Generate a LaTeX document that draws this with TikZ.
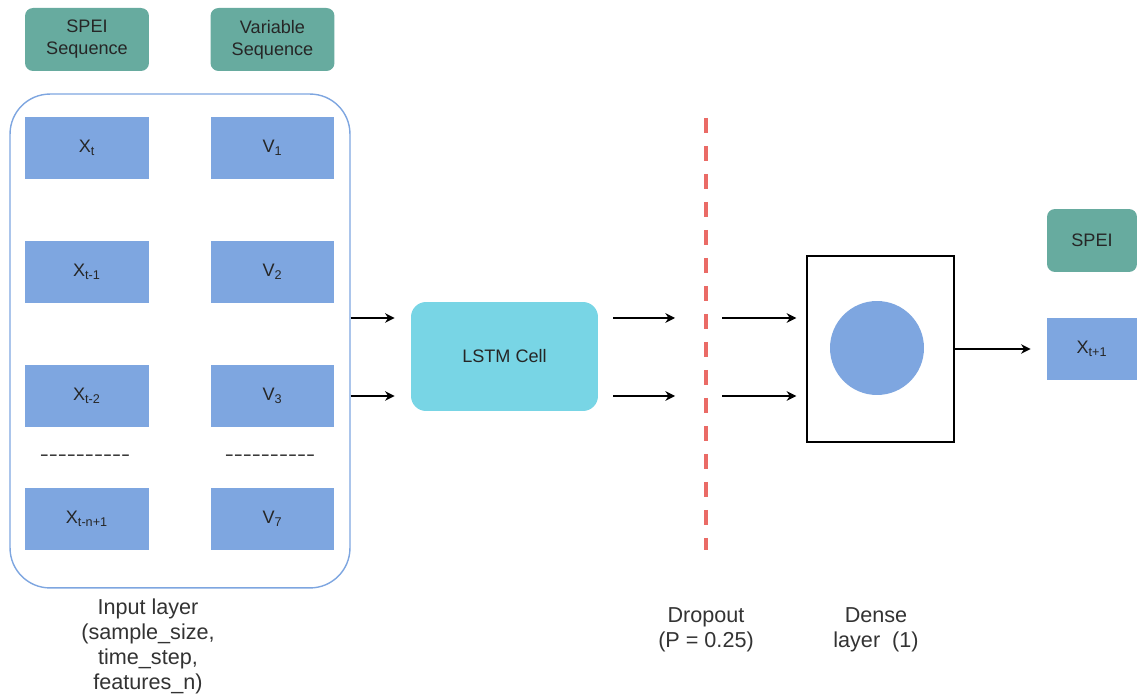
\documentclass[tikz,border=0pt]{standalone}
\usepackage{fontspec}
\setmainfont{Liberation Sans}
\usepackage{tikz}
\usetikzlibrary{arrows.meta, calc, positioning}
\definecolor{seqgreen}{HTML}{67AB9F}
\definecolor{cellblue}{HTML}{7EA6E0}
\definecolor{lstmcyan}{HTML}{78D5E5}
\definecolor{dropred}{HTML}{EA6B66}
\definecolor{labgray}{HTML}{333333}
\newcommand{\boxfont}{\fontsize{10.3}{12.5}\selectfont}
\newcommand{\labfont}{\fontsize{12.3}{14.2}\selectfont}
\newcommand{\dashrow}{\scalebox{1.5}[1]{-{}-{}-{}-{}-{}-{}-{}-{}-{}-}}
\tikzset{
  headbox/.style  = {rectangle, rounded corners=0.16cm, fill=seqgreen,
                     text=black!85, font=\boxfont, align=center,
                     minimum width=2.48cm, minimum height=1.26cm, inner sep=0pt},
  cellbox/.style  = {rectangle, fill=cellblue, text=black!85, font=\boxfont,
                     minimum width=2.48cm, minimum height=1.24cm, inner sep=0pt},
  inframe/.style  = {rectangle, rounded corners=0.8cm, draw=cellblue,
                     line width=0.8pt, minimum width=6.8cm, minimum height=9.88cm},
  lstmbox/.style  = {rectangle, rounded corners=0.3cm, fill=lstmcyan,
                     text=black!85, font=\boxfont,
                     minimum width=3.74cm, minimum height=2.18cm},
  densebox/.style = {rectangle, draw=black, line width=0.8pt, fill=white,
                     minimum width=2.94cm, minimum height=3.72cm},
  neuron/.style   = {circle, fill=cellblue, minimum size=1.88cm, inner sep=0pt},
  dropline/.style = {draw=dropred, line width=2.2pt, dash pattern=on 0.3cm off 0.26cm},
  flow/.style     = {-{Stealth[length=5.5pt, width=5.5pt]}, line width=0.8pt},
  lab/.style      = {font=\labfont, text=labgray, align=center, inner sep=0pt},
  dashlab/.style  = {lab, font=\boxfont, text=black!85},
}

\begin{document}
\begin{tikzpicture}[x=0.02cm, y=-0.02cm]
  \useasboundingbox (0,0) rectangle (1137,695);
  % input side
  \node[headbox] (spseq) at (87,39.5) {SPEI\\Sequence};
  \node[headbox] (varseq) at (272.5,39.5) {Variable\\Sequence};
  \node[inframe] (inframe) at (180,341) {};
  \foreach \r/\y/\xl/\vl in {1/148/X\textsubscript{t}/V\textsubscript{1},
                             2/272/X\textsubscript{t-1}/V\textsubscript{2},
                             3/396/X\textsubscript{t-2}/V\textsubscript{3},
                             4/519/X\textsubscript{t-n+1}/V\textsubscript{7}}{
    \node[cellbox] (x\r) at (87,\y) {\xl};
    \node[cellbox] (v\r) at (272.5,\y) {\vl};}
  \node[dashlab] (xdots) at (85,458) {\dashrow};
  \node[dashlab] (vdots) at (270,458) {\dashrow};
  \node[lab] (inlab) at (148,646) {Input layer\\(sample\_size,\\time\_step,\\features\_n)};

  % lstm, dropout, dense
  \coordinate (lane1) at (0,318);
  \coordinate (lane2) at (0,396);
  \node[lstmbox] (lstm) at (504.5,356.5) {LSTM Cell};
  \coordinate (droptop) at (706,118);
  \coordinate (dropbot) at (706,550);
  \draw[dropline] (droptop) -- (dropbot);
  \node[densebox] (dense) at (880.5,349) {};
  \node[neuron] (unit) at (877,348) {};
  \node[lab] (droplab) at (706,630) {Dropout\\(P = 0.25)};
  \node[lab] (denselab) at (876,630) {Dense\\layer\ \ (1)};

  % output
  \node[headbox, minimum width=1.8cm] (spout) at (1092,240.5) {SPEI};
  \node[cellbox, minimum width=1.8cm] (xout) at (1092,349) {X\textsubscript{t+1}};

  \foreach \l in {lane1,lane2}{
    \draw[flow, shorten >=0.32cm] (inframe.east |- \l) -- (lstm.west |- \l);
    \draw[flow, shorten <=0.3cm, shorten >=0.62cm] (lstm.east |- \l) -- (droptop |- \l);
    \draw[flow, shorten <=0.32cm, shorten >=0.2cm] (droptop |- \l) -- (dense.west |- \l);}
  \draw[flow, shorten >=0.32cm] (dense.east |- xout) -- (xout.west);
\end{tikzpicture}
\end{document}
